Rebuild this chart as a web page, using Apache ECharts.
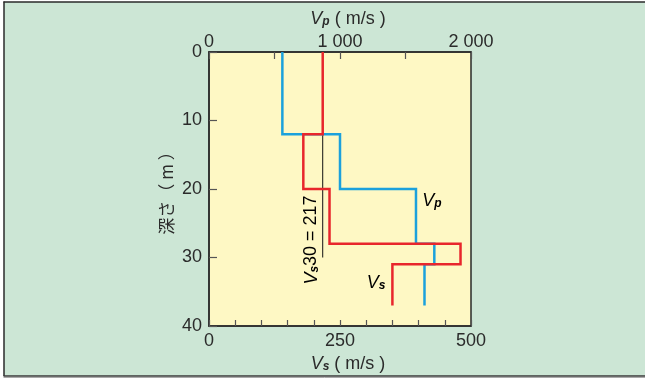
<!DOCTYPE html>
<html>
<head>
<meta charset="utf-8">
<script src="https://cdn.jsdelivr.net/npm/echarts@6/dist/echarts.min.js"></script>
<style>
html,body{margin:0;padding:0;background:#ffffff;}
#c{width:645px;height:378px;}
</style>
</head>
<body>
<div id="c"></div>
<script>
// ---- data ----
const layerTops = [0, 12, 20, 28, 31];
const profileBottom = 37;
const vsValues = [217, 180, 230, 480, 350];
const vpValues = [560, 1000, 1580, 1720, 1645];
const vs30Value = 217;
const vs30Depth = 30;
const depthTicks = [0, 10, 20, 30, 40];
const vsTickLabels = [0, 250, 500];
const vpTickLabels = [0, 1000, 2000];

function steps(vals) {
  const pts = [];
  for (let i = 0; i < vals.length; i++) {
    const bot = i + 1 < layerTops.length ? layerTops[i + 1] : profileBottom;
    pts.push([vals[i], layerTops[i]]);
    pts.push([vals[i], bot]);
  }
  return pts;
}
function fmtThousands(v) {
  return String(v).replace(/\B(?=(\d{3})+(?!\d))/g, ' ');
}

const FONT = '"Liberation Sans", Arial, sans-serif';
const TXT = '#2b2b2b';
const RED = '#e8262c';
const BLUE = '#1ba1dc';

const rich = {
  v: { fontFamily: FONT, fontSize: 18, fontStyle: 'italic', color: TXT, verticalAlign: 'bottom', lineHeight: 19 },
  s: { fontFamily: FONT, fontSize: 12, fontStyle: 'italic', fontWeight: 'bold', color: TXT, verticalAlign: 'bottom', lineHeight: 15 },
  n: { fontFamily: FONT, fontSize: 18, color: TXT, verticalAlign: 'bottom', lineHeight: 19 }
};

const chart = echarts.init(document.getElementById('c'), null, { renderer: 'canvas' });
chart.setOption({
  animation: false,
  backgroundColor: 'transparent',
  graphic: [
    { type: 'rect', shape: { x: 4, y: 2, width: 645, height: 374 }, style: { fill: '#cce6d5' }, z: -10 },
    { type: 'line', shape: { x1: 3.5, y1: 2, x2: 645, y2: 2 }, style: { stroke: '#2a2a2a', lineWidth: 1.5 }, z: -9 },
    { type: 'line', shape: { x1: 4, y1: 1.5, x2: 4, y2: 376 }, style: { stroke: '#2a2a2a', lineWidth: 1.5 }, z: -9 },
    { type: 'line', shape: { x1: 3.5, y1: 376, x2: 645, y2: 376 }, style: { stroke: '#3a3a3a', lineWidth: 1.5 }, z: -9 },
    { type: 'line', shape: { x1: 3.5, y1: 377.5, x2: 645, y2: 377.5 }, style: { stroke: '#aaaaaa', lineWidth: 1 }, z: -9 },
    {
      type: 'text', x: 311, y: 240, rotation: Math.PI / 2, z: 10,
      style: { text: '{v|V}{s|s}{n|30 = ' + vs30Value + '}', rich: rich, align: 'center', verticalAlign: 'middle' }
    },
    {
      type: 'text', x: 432, y: 200, z: 10,
      style: { text: '{v|V}{s|p}', rich: rich, align: 'center', verticalAlign: 'middle' }
    },
    {
      type: 'text', x: 376, y: 282, z: 10,
      style: { text: '{v|V}{s|s}', rich: rich, align: 'center', verticalAlign: 'middle' }
    }
  ],
  grid: {
    left: 209, top: 52, width: 262, height: 274,
    show: true, backgroundColor: '#fef8c4', borderColor: '#2a2a2a', borderWidth: 1.5
  },
  xAxis: [
    {
      type: 'value', position: 'bottom', min: 0, max: 500, interval: 50,
      name: '{v|V}{s|s}{n| ( m/s )}', nameLocation: 'middle', nameGap: 28,
      nameTextStyle: { rich: rich, padding: [0, 0, 0, 16] },
      axisLine: { show: true, onZero: false, lineStyle: { color: '#2a2a2a', width: 1.5 } },
      axisTick: { show: true, inside: true, length: 6, lineStyle: { color: '#555', width: 1.2 } },
      splitLine: { show: false },
      axisLabel: {
        interval: 0, margin: 6, color: TXT, fontFamily: FONT, fontSize: 18,
        formatter: v => (vsTickLabels.indexOf(v) >= 0 ? String(v) : '')
      }
    },
    {
      type: 'value', position: 'top', min: 0, max: 2000, interval: 500,
      name: '{v|V}{s|p}{n| ( m/s )}', nameLocation: 'middle', nameGap: 20,
      nameTextStyle: { rich: rich, padding: [0, 0, 0, 16] },
      axisLine: { show: true, onZero: false, lineStyle: { color: '#2a2a2a', width: 1.5 } },
      axisTick: { show: true, inside: true, length: 7, lineStyle: { color: '#555', width: 1.2 } },
      splitLine: { show: false },
      axisLabel: {
        interval: 0, margin: 1, color: TXT, fontFamily: FONT, fontSize: 18,
        formatter: v => (vpTickLabels.indexOf(v) >= 0 ? fmtThousands(v) : '')
      }
    }
  ],
  yAxis: [{
    type: 'value', inverse: true, min: 0, max: 40, interval: 10,
    name: '深さ（ m ）', nameLocation: 'middle', nameGap: 34,
    nameTextStyle: { fontFamily: '"Noto Sans CJK JP", ' + FONT, fontSize: 17, color: TXT },
    axisLine: { show: true, onZero: false, lineStyle: { color: '#2a2a2a', width: 1.5 } },
    axisTick: { show: true, inside: true, length: 8, lineStyle: { color: '#555', width: 1.2 } },
    splitLine: { show: false },
    axisLabel: {
      margin: 7, color: TXT, fontFamily: FONT, fontSize: 18,
      formatter: v => (depthTicks.indexOf(v) >= 0 ? String(v) : '')
    }
  }],
  series: [
    {
      type: 'line', xAxisIndex: 0, yAxisIndex: 0, z: 1,
      data: [[vs30Value, 0], [vs30Value, vs30Depth]],
      symbol: 'none', lineStyle: { color: '#111', width: 1 }
    },
    {
      type: 'line', xAxisIndex: 1, yAxisIndex: 0, z: 2,
      data: steps(vpValues), symbol: 'none',
      lineStyle: { color: BLUE, width: 2.5, join: 'miter' }
    },
    {
      type: 'line', xAxisIndex: 0, yAxisIndex: 0, z: 3,
      data: steps(vsValues), symbol: 'none',
      lineStyle: { color: RED, width: 2.5, join: 'miter' }
    }
  ]
});
</script>
</body>
</html>
